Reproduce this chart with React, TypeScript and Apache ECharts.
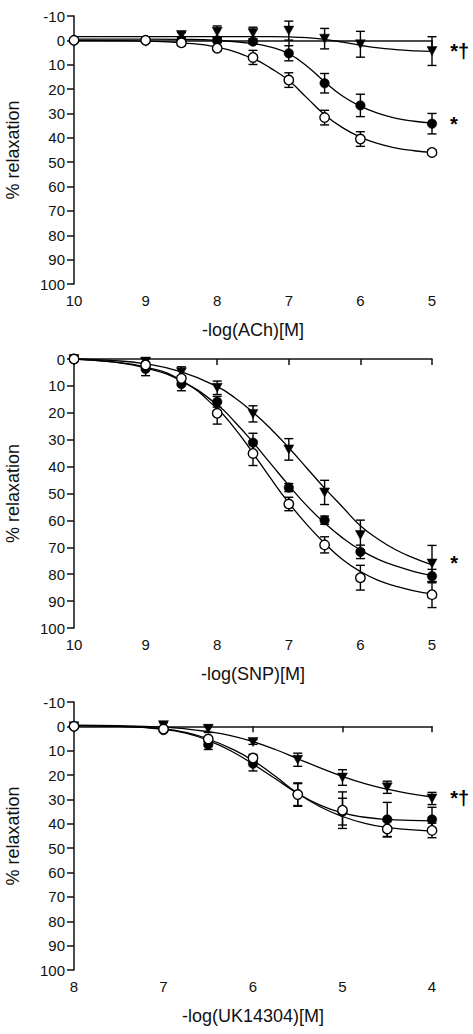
import React, { useEffect, useRef } from "react";
import * as echarts from "echarts";

// ---------- Panel 1: ACh ----------
const achDoses = [10, 9, 8.5, 8, 7.5, 7, 6.5, 6, 5];
const achControl = [0, 0, 1, 3.2, 7, 16.3, 31.7, 40.5, 46];
const achControlSem = [0.5, 0.5, 0.8, 1, 2.9, 3, 3, 3, 1];
const achFilled = [0, 0, 0, 0, 0.5, 5.3, 17.6, 26.7, 34.2];
const achFilledSem = [0.5, 0.5, 0.5, 1, 1, 3.1, 4, 4.6, 4.2];
const achTriDoses = [8.5, 8, 7.5, 7, 6.5, 6, 5];
const achTri = [-2.2, -3.5, -3, -4, -0.7, 1.6, 4.4];
const achTriSem = [1, 2.4, 2.4, 3.9, 4.2, 5.3, 5.9];
const achFitX = [10, 9.5, 9, 8.5, 8, 7.5, 7.25, 7, 6.75, 6.5, 6.25, 6, 5.75, 5.5, 5.25, 5];
const achFitControl = [0, 0.1, 0.3, 1, 2.8, 7.5, 11.5, 16.5, 23.5, 30.5, 35.8, 39.7, 42.4, 44.2, 45.3, 46];
const achFitFilled = [-0.5, -0.5, -0.5, -0.4, 0, 1.3, 2.8, 5.5, 10.5, 17, 22.8, 27, 30, 32, 33.2, 34];
const achFitTri = [-1.5, -1.5, -1.5, -1.5, -1.5, -1.5, -1.5, -1.4, -1.1, -0.4, 0.7, 2, 3.1, 3.8, 4.3, 4.5];

// ---------- Panel 2: SNP ----------
const snpDoses = [10, 9, 8.5, 8, 7.5, 7, 6.5, 6, 5];
const snpControl = [0, 2.2, 7.2, 20.2, 35.1, 53.9, 69.1, 81.3, 87.6];
const snpControlSem = [0, 1, 1, 4, 4.5, 2.5, 3, 4.6, 4.8];
const snpFilled = [0, 3.7, 9.3, 15.9, 31.1, 47.8, 59.9, 71.7, 80.7];
const snpFilledSem = [0, 2.5, 2.5, 2, 3.5, 1.5, 1.5, 2.5, 2.5];
const snpTri = [0, 1, 4.9, 10.7, 20.4, 33.6, 49.6, 65.4, 76];
const snpTriSem = [0, 1.5, 2, 2.5, 3, 4, 4.5, 5.5, 6.7];
const snpFitX = [10, 9.5, 9, 8.5, 8, 7.75, 7.5, 7.25, 7, 6.75, 6.5, 6.25, 6, 5.75, 5.5, 5.25, 5];
const snpFitControl = [0, 1, 3, 8, 18.5, 26, 35, 44.5, 53.5, 61.5, 68.5, 74.5, 79, 82.3, 84.5, 86.2, 87.3];
const snpFitFilled = [0, 1, 3.3, 8.2, 17, 23.5, 31, 39, 47, 54.5, 61, 66.5, 71, 74.5, 77, 79, 80.5];
const snpFitTri = [0, 0.5, 1.8, 4.8, 10.3, 14.5, 19.8, 26, 33, 40.5, 48, 55, 62, 67, 71, 74, 76.5];

// ---------- Panel 3: UK14304 ----------
const ukDoses = [8, 7, 6.5, 6, 5.5, 5, 4.5, 4];
const ukControl = [0, 1.1, 5.2, 13, 28, 34.4, 42.1, 42.7];
const ukControlSem = [0, 0.5, 1, 1.5, 4.8, 7.5, 3.3, 3];
const ukFilled = [0, 1.5, 7.5, 15.3, 28, 35, 38.2, 38.2];
const ukFilledSem = [0, 0.5, 2, 3, 4.5, 5.5, 7, 5];
const ukTri = [0, -0.5, 1, 6.4, 13.7, 21, 25, 29.6];
const ukTriSem = [0, 1, 1.5, 1, 2.7, 3.2, 2.5, 2.5];
const ukFitX = [8, 7.5, 7, 6.75, 6.5, 6.25, 6, 5.75, 5.5, 5.25, 5, 4.75, 4.5, 4.25, 4];
const ukFitControl = [-0.3, 0, 1, 2.5, 5.2, 9, 14, 20.5, 27.5, 33, 37, 39.8, 41.5, 42.4, 43];
const ukFitFilled = [-0.3, 0, 1.2, 2.8, 5.8, 10, 15.5, 21.5, 27.5, 32.3, 35.5, 37.3, 38.2, 38.6, 38.8];
const ukFitTri = [-0.5, -0.3, 0.3, 1, 2.2, 3.8, 6.3, 9.5, 13.3, 17, 20.5, 23.5, 25.8, 27.6, 29];

// ---------- Axis labels / ticks ----------
const yAxisName = "% relaxation";
const xAxisNames = ["-log(ACh)[M]", "-log(SNP)[M]", "-log(UK14304)[M]"];
const xRanges = [[5, 10], [5, 10], [4, 8]];
const yRanges = [[-10, 100], [0, 100], [-10, 100]];
// significance annotations: [panel, group, text]
const annotations: [number, string, string][] = [
  [0, "tri", "*†"],
  [0, "filled", "*"],
  [1, "tri", "*"],
  [2, "tri", "*†"],
];

const FONT = '"Liberation Sans", Arial, Helvetica, sans-serif';

type Group = { key: string; x: number[]; y: number[]; sem: number[]; fitX: number[]; fit: number[] };

const panels: Group[][] = [
  [
    { key: "tri", x: achTriDoses, y: achTri, sem: achTriSem, fitX: achFitX, fit: achFitTri },
    { key: "filled", x: achDoses, y: achFilled, sem: achFilledSem, fitX: achFitX, fit: achFitFilled },
    { key: "open", x: achDoses, y: achControl, sem: achControlSem, fitX: achFitX, fit: achFitControl },
  ],
  [
    { key: "tri", x: snpDoses, y: snpTri, sem: snpTriSem, fitX: snpFitX, fit: snpFitTri },
    { key: "filled", x: snpDoses, y: snpFilled, sem: snpFilledSem, fitX: snpFitX, fit: snpFitFilled },
    { key: "open", x: snpDoses, y: snpControl, sem: snpControlSem, fitX: snpFitX, fit: snpFitControl },
  ],
  [
    { key: "tri", x: ukDoses, y: ukTri, sem: ukTriSem, fitX: ukFitX, fit: ukFitTri },
    { key: "filled", x: ukDoses, y: ukFilled, sem: ukFilledSem, fitX: ukFitX, fit: ukFitFilled },
    { key: "open", x: ukDoses, y: ukControl, sem: ukControlSem, fitX: ukFitX, fit: ukFitControl },
  ],
];

function buildOption() {
  const grids = [
    { left: 74, width: 358, top: 16, height: 268, containLabel: false, outerBoundsMode: "none" },
    { left: 74, width: 358, top: 359, height: 269, containLabel: false, outerBoundsMode: "none" },
    { left: 74, width: 358, top: 702, height: 268, containLabel: false, outerBoundsMode: "none" },
  ];
  const axisLine = { show: true, lineStyle: { color: "#111", width: 1.5 } };
  const xAxis = grids.map((_, i) => ({
    type: "value",
    gridIndex: i,
    inverse: true,
    min: xRanges[i][0],
    max: xRanges[i][1],
    interval: 1,
    name: xAxisNames[i],
    nameLocation: "middle",
    nameGap: 37,
    nameTextStyle: { fontFamily: FONT, fontSize: 18, color: "#111" },
    axisLine,
    axisTick: { show: true, inside: false, length: 6, lineStyle: { color: "#111", width: 1.5 } },
    axisLabel: { fontFamily: FONT, fontSize: 15, color: "#111", margin: 9 },
    splitLine: { show: false },
  }));
  const yAxis = grids.map((_, i) => ({
    type: "value",
    gridIndex: i,
    inverse: true,
    min: yRanges[i][0],
    max: yRanges[i][1],
    interval: 10,
    name: yAxisName,
    nameLocation: "middle",
    nameGap: 52,
    nameRotate: 90,
    nameTextStyle: { fontFamily: FONT, fontSize: 18, color: "#111" },
    axisLine,
    axisTick: { show: true, inside: false, length: 7, lineStyle: { color: "#111", width: 1.5 } },
    axisLabel: { fontFamily: FONT, fontSize: 15, color: "#111", margin: 9 },
    splitLine: { show: false },
  }));

  const series: any[] = [];
  panels.forEach((groups, pi) => {
    // fitted curves
    groups.forEach((g) => {
      series.push({
        type: "line",
        xAxisIndex: pi,
        yAxisIndex: pi,
        smooth: 0.5,
        showSymbol: false,
        symbol: "none",
        z: 1,
        lineStyle: { color: "#000", width: 1.3 },
        data: g.fitX.map((x, k) => [x, g.fit[k]]),
        silent: true,
      });
    });
    // error bars
    groups.forEach((g) => {
      series.push({
        type: "custom",
        xAxisIndex: pi,
        yAxisIndex: pi,
        z: 2,
        encode: { x: 0, y: [1, 2] },
        data: g.x.map((x, k) => [x, g.y[k] - g.sem[k], g.y[k] + g.sem[k]]),
        renderItem: (params: any, api: any) => {
          const x = api.value(0);
          const p1 = api.coord([x, api.value(1)]);
          const p2 = api.coord([x, api.value(2)]);
          const w = 4.5;
          const st = { stroke: "#000", lineWidth: 1.4 };
          return {
            type: "group",
            children: [
              { type: "line", shape: { x1: p1[0], y1: p1[1], x2: p2[0], y2: p2[1] }, style: st },
              { type: "line", shape: { x1: p1[0] - w, y1: p1[1], x2: p1[0] + w, y2: p1[1] }, style: st },
              { type: "line", shape: { x1: p2[0] - w, y1: p2[1], x2: p2[0] + w, y2: p2[1] }, style: st },
            ],
          };
        },
      });
    });
    // markers
    groups.forEach((g) => {
      const isTri = g.key === "tri";
      const isOpen = g.key === "open";
      const ann = annotations.filter((a) => a[0] === pi && a[1] === g.key);
      series.push({
        type: "scatter",
        xAxisIndex: pi,
        yAxisIndex: pi,
        z: isTri ? 3 : isOpen ? 5 : 4,
        symbol: isTri ? "triangle" : "circle",
        symbolRotate: isTri ? 180 : 0,
        symbolSize: isTri ? [10, 9] : 9.5,
        itemStyle: {
          color: isOpen ? "#ffffff" : "#000000",
          borderColor: "#000",
          borderWidth: isOpen ? 1.4 : 0.5,
          opacity: 1,
        },
        emphasis: { disabled: true },
        data: g.x.map((x, k) => {
          const item: any = { value: [x, g.y[k]] };
          if (ann.length && k === g.x.length - 1) {
            item.label = {
              show: true,
              position: "right",
              distance: 13,
              formatter: ann[0][2],
              fontFamily: FONT,
              fontSize: 20,
              fontWeight: "bold",
              color: "#000",
            };
          }
          return item;
        }),
      });
    });
  });

  return {
    animation: false,
    backgroundColor: "#fff",
    grid: grids,
    xAxis,
    yAxis,
    series,
  };
}

export default function App() {
  const ref = useRef<HTMLDivElement>(null);
  useEffect(() => {
    if (!ref.current) return;
    const chart = echarts.init(ref.current, undefined, { renderer: "svg" });
    chart.setOption(buildOption() as any);
    return () => chart.dispose();
  }, []);
  return (
    <div
      ref={ref}
      style={{ position: "absolute", left: 0, top: 0, width: 473, height: 1034, background: "#fff" }}
    />
  );
}
